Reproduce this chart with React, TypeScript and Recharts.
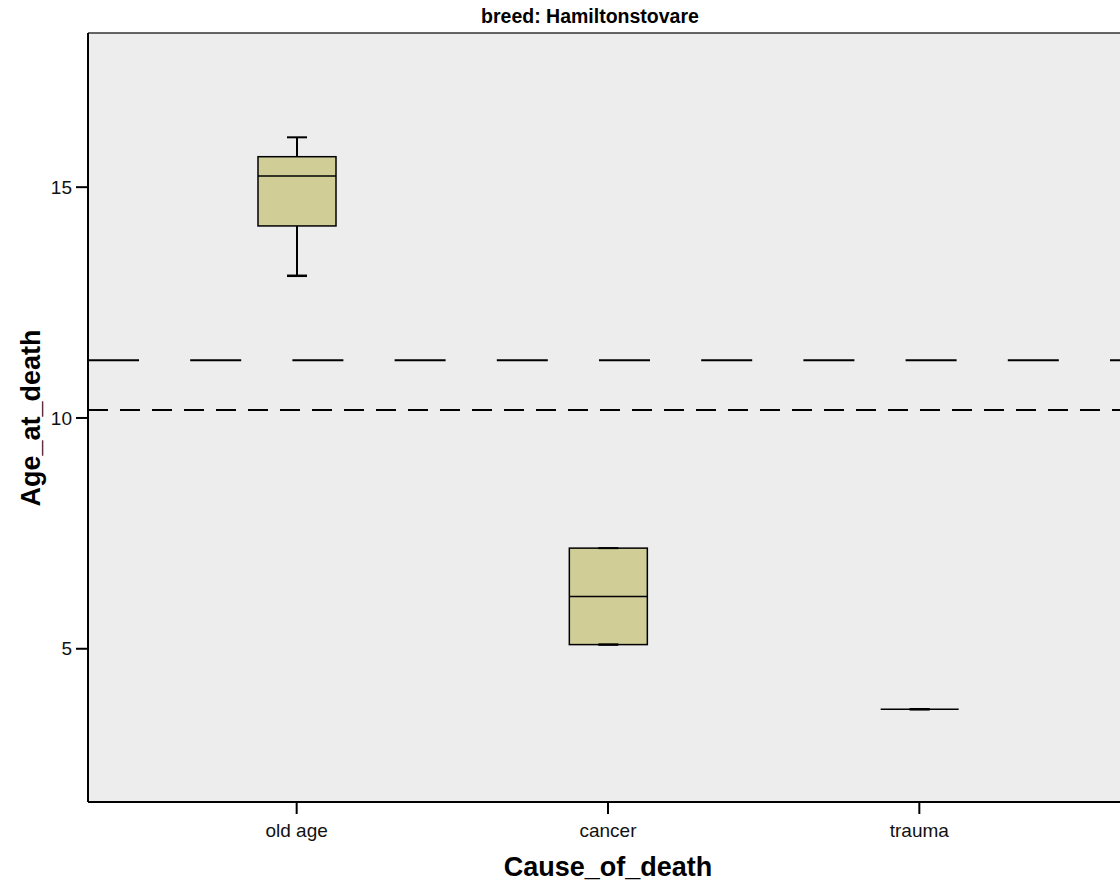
import React from "react";
import {
  ComposedChart,
  Bar,
  XAxis,
  YAxis,
  CartesianGrid,
  ReferenceLine,
} from "recharts";

const causes = ["old age", "cancer", "trauma"];
const whiskerLow = [13.08, 5.09, 3.69];
const q1 = [14.16, 5.09, 3.69];
const median = [15.24, 6.13, 3.69];
const q3 = [15.66, 7.18, 3.69];
const whiskerHigh = [16.08, 7.18, 3.69];
const yTicks = [5, 10, 15];
const longDashLine = 11.25;
const shortDashLine = 10.17;
const Y_MIN = 1.68;
const Y_MAX = 18.34;

const data = causes.map((cause, i) => ({
  cause,
  low: whiskerLow[i],
  q1: q1[i],
  median: median[i],
  q3: q3[i],
  high: whiskerHigh[i],
}));

const FONT = "'Liberation Sans', Arial, sans-serif";
const BOX_FILL = "#d0cd96";

// the bar spans the whole y domain, so its y/height give the axis mapping
function BoxShape(props: any) {
  const { x, y, width, height, payload } = props;
  const py = (v: number) => y + ((Y_MAX - v) / (Y_MAX - Y_MIN)) * height;
  const cx = x + width / 2;
  const cap = 10;
  const top = py(payload.q3);
  const bottom = py(payload.q1);
  return (
    <g>
      <line x1={cx} x2={cx} y1={py(payload.high)} y2={top} stroke="#000" strokeWidth={2} />
      <line x1={cx} x2={cx} y1={bottom} y2={py(payload.low)} stroke="#000" strokeWidth={2} />
      <rect
        x={x}
        y={top}
        width={width}
        height={Math.max(bottom - top, 0)}
        fill={BOX_FILL}
        stroke="#000"
        strokeWidth={1.5}
      />
      <line x1={x} x2={x + width} y1={py(payload.median)} y2={py(payload.median)} stroke="#000" strokeWidth={1.5} />
      <line x1={cx - cap} x2={cx + cap} y1={py(payload.high)} y2={py(payload.high)} stroke="#000" strokeWidth={2} />
      <line x1={cx - cap} x2={cx + cap} y1={py(payload.low)} y2={py(payload.low)} stroke="#000" strokeWidth={2.5} />
    </g>
  );
}

export default function App() {
  return (
    <div style={{ width: 1120, height: 885, overflow: "hidden", position: "relative", background: "#fff" }}>
      <style>{"body{margin:0}"}</style>
      <ComposedChart
        width={1140}
        height={885}
        data={data}
        margin={{ top: 33, right: 12, left: 0, bottom: 0 }}
        style={{ fontFamily: FONT }}
      >
        <CartesianGrid fill="#ededed" horizontal={false} vertical={false} />
        <XAxis
          dataKey="cause"
          padding={{ left: 53, right: 53 }}
          height={83}
          tickSize={12}
          tickMargin={10}
          axisLine={{ stroke: "#000", strokeWidth: 2 }}
          tickLine={{ stroke: "#000", strokeWidth: 2 }}
          tick={{ fontSize: 19, fill: "#111", fontFamily: FONT }}
          label={{
            content: () => (
              <text
                x={608}
                y={876}
                textAnchor="middle"
                fontSize={27}
                fontWeight="bold"
                fontFamily={FONT}
                fill="#000"
              >
                Cause_of_death
              </text>
            ),
          }}
        />
        <YAxis
          type="number"
          domain={[Y_MIN, Y_MAX]}
          allowDataOverflow
          ticks={yTicks}
          width={88}
          tickSize={12}
          tickMargin={4}
          axisLine={{ stroke: "#000", strokeWidth: 2 }}
          tickLine={{ stroke: "#000", strokeWidth: 2 }}
          tick={{ fontSize: 19, fill: "#111", fontFamily: FONT }}
          label={{
            content: () => (
              <text
                x={40}
                y={418}
                transform="rotate(-90 40 418)"
                textAnchor="middle"
                fontSize={27}
                fontWeight="bold"
                fontFamily={FONT}
                fill="#000"
              >
                Age_at_death
              </text>
            ),
          }}
        />
        <ReferenceLine y={Y_MAX} stroke="#333" strokeWidth={1.5} />
        <ReferenceLine y={longDashLine} stroke="#000" strokeWidth={2} strokeDasharray="51 51.2" />
        <ReferenceLine y={shortDashLine} stroke="#000" strokeWidth={2} strokeDasharray="20 12" />
        <Bar
          dataKey={() => [Y_MIN, Y_MAX]}
          barSize={78}
          shape={<BoxShape />}
          isAnimationActive={false}
        />
      </ComposedChart>
      <div
        style={{
          position: "absolute",
          top: 5,
          left: 0,
          width: 1180,
          textAlign: "center",
          fontFamily: FONT,
          fontWeight: "bold",
          fontSize: 19.5,
          color: "#000",
        }}
      >
        breed: Hamiltonstovare
      </div>
    </div>
  );
}
